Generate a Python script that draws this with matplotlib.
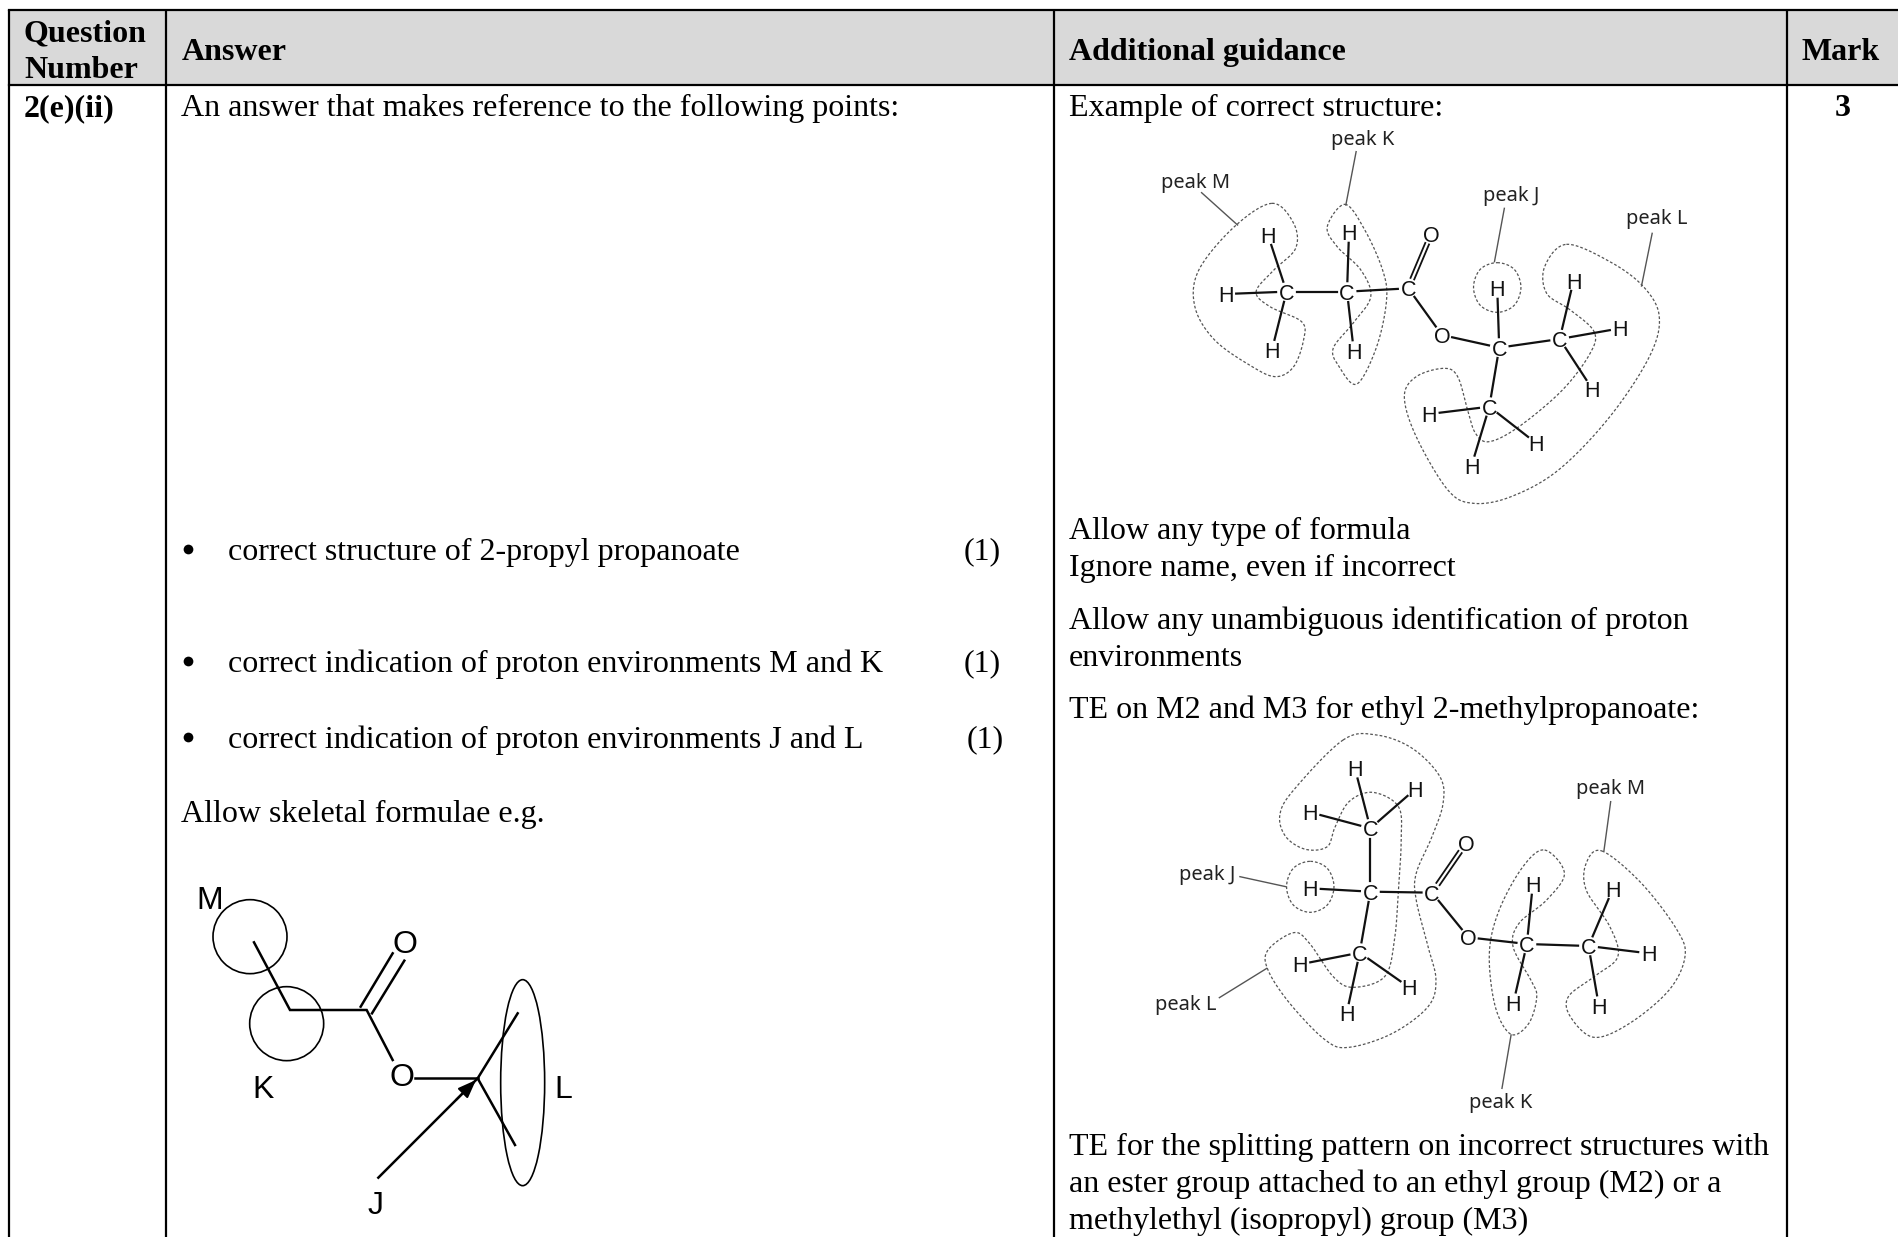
import matplotlib
matplotlib.use("Agg")
import matplotlib.pyplot as plt
import numpy as np
from matplotlib.patches import Circle, Ellipse, Rectangle

W, H = 1899, 1237
SERIF = "Liberation Serif"
SANS = "Liberation Sans"
BODY = 23.0

col_x = [9.5, 166, 1054, 1787]
header_top, header_bottom = 10, 85

header_labels = [("Question", 24, 41), ("Number", 24, 78), ("Answer", 182, 60),
                 ("Additional guidance", 1069, 60), ("Mark", 1802, 60)]
bold_labels = [("2(e)(ii)", 24, 116), ("3", 1835, 116)]
body_lines = [
    ("An answer that makes reference to the following points:", 181, 116),
    ("correct structure of 2-propyl propanoate", 228, 560),
    ("(1)", 964, 559),
    ("correct indication of proton environments M and K", 228, 672),
    ("(1)", 964, 671),
    ("correct indication of proton environments J and L", 228, 748),
    ("(1)", 967, 747),
    ("Allow skeletal formulae e.g.", 181, 822),
    ("Example of correct structure:", 1069, 116),
    ("Allow any type of formula", 1069, 539),
    ("Ignore name, even if incorrect", 1069, 576),
    ("Allow any unambiguous identification of proton", 1069, 629),
    ("environments", 1069, 666),
    ("TE on M2 and M3 for ethyl 2-methylpropanoate:", 1069, 718),
    ("TE for the splitting pattern on incorrect structures with", 1069, 1155),
    ("an ester group attached to an ethyl group (M2) or a", 1069, 1192),
    ("methylethyl (isopropyl) group (M3)", 1069, 1229),
]
bullet_y = [549, 661, 737]

# ---- first molecule (reference zoom units) ----
m1_atoms = [("H",425,375),("H",318,552),("H",435,720),("C",472,545),
            ("H",630,367),("H",642,722),("C",625,545),("C",780,535),("O",838,372),
            ("O",865,675),("C",1010,713),("H",1005,535),("C",1163,687),("H",1198,512),
            ("H",1316,655),("H",1245,836),("C",985,890),("H",833,912),("H",1104,1000),("H",940,1067)]
m1_bonds = [(0,3),(1,3),(2,3),(3,6),(4,6),(5,6),(6,7),(7,9),(9,10),(10,11),(10,12),
            (12,13),(12,14),(12,15),(10,16),(16,17),(16,18),(16,19)]
m1_double = (7, 8)
m1_peaks = [("peak K",665,90),("peak M",243,218),("peak J",1040,258),("peak L",1408,328)]
m1_leaders = [((648,125),(622,285)),((257,248),(348,345)),((1023,295),(998,455)),((1397,370),(1370,528))]
m1_blobs = [
    [(435,280),(490,340),(495,415),(440,480),(395,545),(430,590),(510,635),(515,690),(490,770),(445,800),(385,770),(290,690),(240,590),(250,480),(340,350)],
    [(620,283),(670,360),(715,480),(725,570),(700,710),(650,822),(605,770),(590,715),(640,640),(685,560),(660,480),(600,410),(575,350)],
    [(1005,458),(1048,478),(1065,532),(1048,586),(1005,607),(962,586),(945,532),(962,478)],
    [(1180,403),(1290,455),(1375,530),(1415,620),(1390,740),(1290,920),(1160,1080),(1040,1160),(945,1180),(880,1140),(800,980),(770,860),(800,800),(870,775),(905,800),(930,900),(950,970),(985,995),(1060,950),(1170,840),(1240,730),(1250,665),(1190,600),(1130,550),(1125,470)],
]

# ---- second molecule (reference zoom units) ----
m2_atoms = [("H",645,85),("H",798,147),("H",532,217),("C",684,265),
            ("H",532,445),("C",684,455),("C",657,638),("H",506,673),("H",782,742),("H",624,820),
            ("C",840,458),("O",926,310),("O",932,592),("C",1080,612),("H",1095,433),("H",1046,788),
            ("C",1236,618),("H",1297,448),("H",1388,640),("H",1262,797)]
m2_bonds = [(0,3),(1,3),(2,3),(3,5),(4,5),(5,6),(6,7),(6,8),(6,9),(5,10),(10,12),(12,13),
            (13,14),(13,15),(13,16),(16,17),(16,18),(16,19)]
m2_double = (10, 11)
m2_peaks = [("peak M",1292,148),("peak J",270,406),("peak L",218,795),("peak K",1015,1088)]
m2_leaders = [((1292,185),(1275,332)),((354,410),(470,440)),((302,773),(422,685)),((1040,885),(1017,1045))]
m2_blobs = [
    [(615,0),(700,-15),(790,25),(860,110),(868,190),(840,290),(800,400),(800,480),(830,620),(850,720),(830,800),(740,880),(630,922),(570,900),(480,790),(425,690),(425,630),(490,578),(530,610),(590,710),(640,742),(720,710),(745,600),(755,450),(762,300),(755,200),(690,157),(630,185),(595,260),(575,320),(520,328),(470,290),(455,225),(490,150)],
    [(532,364),(575,385),(592,440),(575,495),(532,517),(489,495),(472,440),(489,385)],
    [(1125,330),(1175,400),(1130,480),(1060,550),(1045,620),(1090,720),(1105,770),(1085,850),(1040,883),(1000,800),(985,640),(1010,510),(1070,380)],
    [(1270,333),(1370,430),(1460,570),(1480,650),(1440,750),(1340,850),(1250,892),(1190,830),(1185,770),(1250,710),(1310,650),(1290,560),(1230,450),(1230,370)],
]

# ---- skeletal structure (reference zoom units) ----
sk_chain = [(252,247),(360,450),(590,450),(668,600)]
sk_ester = [(735,655),(923,655)]
sk_arm_up = [(923,655),(1043,460)]
sk_arm_down = [(923,655),(1035,855)]
sk_dbl_a = [(572,440),(668,280)]
sk_dbl_b = [(606,460),(703,302)]
sk_arrow = [(625,953),(918,660)]
sk_circles = [(240,230,111),(350,491,111)]
sk_ellipse = (1058,668,132,618)
sk_labels = [("M",118,112),("K",280,678),("O",705,244),("O",695,644),("L",1180,678),("J",618,1026)]

fig = plt.figure(figsize=(W/100, H/100), dpi=100, facecolor="white")
ax = fig.add_axes([0, 0, 1, 1])
ax.set_xlim(0, W); ax.set_ylim(H, 0); ax.axis("off")

ax.add_patch(Rectangle((col_x[0], header_top), W-col_x[0], header_bottom-header_top,
                       fc="#d9d9d9", ec="none", zorder=0))
for x in col_x:
    ax.plot([x, x], [header_top, H], color="black", lw=1.6, solid_capstyle="butt")
for y in (header_top, header_bottom):
    ax.plot([col_x[0], W], [y, y], color="black", lw=1.6)

for s, x, y in header_labels + bold_labels:
    ax.text(x, y, s, family=SERIF, weight="bold", fontsize=BODY, va="baseline", ha="left")
for s, x, y in body_lines:
    ax.text(x, y, s, family=SERIF, fontsize=BODY, va="baseline", ha="left")
for y in bullet_y:
    ax.plot([188], [y], "o", color="black", ms=7, mec="none")

def smooth(pts, n=16):
    p = np.array(pts, float); m = len(p); out = []
    for i in range(m):
        p0, p1, p2, p3 = p[(i-1) % m], p[i], p[(i+1) % m], p[(i+2) % m]
        for t in np.linspace(0, 1, n, endpoint=False):
            out.append(0.5*((2*p1)+(p2-p0)*t+(2*p0-5*p1+4*p2-p3)*t*t+(3*p1-p0-3*p2+p3)*t**3))
    out.append(out[0])
    return np.array(out)

def molecule(atoms, bonds, double, peaks, leaders, blobs, x0, y0, kx=2.53, ky=3.0):
    tr = lambda q: np.array([x0+q[0]/kx, y0+q[1]/ky])
    for b in blobs:
        c = smooth(b)
        ax.plot(x0+c[:,0]/kx, y0+c[:,1]/ky, color="#555555", lw=0.9, ls=(0,(2.2,1.6)), zorder=2)
    for a, b in leaders:
        A, B = tr(a), tr(b)
        ax.plot([A[0],B[0]], [A[1],B[1]], color="#555555", lw=1.0, zorder=2)
    pos = [tr(a[1:]) for a in atoms]
    gap = 10.5
    for i, j in bonds:
        A, B = pos[i], pos[j]
        u = (B-A)/np.linalg.norm(B-A)
        A2, B2 = A+u*gap, B-u*gap
        ax.plot([A2[0],B2[0]], [A2[1],B2[1]], color="#111111", lw=1.6, zorder=3)
    A, B = pos[double[0]], pos[double[1]]
    u = (B-A)/np.linalg.norm(B-A); nrm = np.array([-u[1],u[0]])*2.0
    for sgn in (-1, 1):
        P, Q = A+u*gap+sgn*nrm, B-u*gap+sgn*nrm
        ax.plot([P[0],Q[0]], [P[1],Q[1]], color="#111111", lw=1.3, zorder=3)
    for s, zx, zy in atoms:
        p = tr((zx, zy))
        ax.text(p[0], p[1], s, family=SANS, fontsize=15.5, ha="center", va="center_baseline", color="#111111", zorder=4)
    for s, zx, zy in peaks:
        p = tr((zx, zy))
        ax.text(p[0], p[1], s, family="Noto Sans", fontsize=14.4, ha="center", va="center", color="#222222", zorder=4)

molecule(m1_atoms, m1_bonds, m1_double, m1_peaks, m1_leaders, m1_blobs, 1100, 110)
molecule(m2_atoms, m2_bonds, m2_double, m2_peaks, m2_leaders, m2_blobs, 1100, 740)

sx = lambda z: 170+z/3
sy = lambda z: 860+z/3
for seg in (sk_chain, sk_ester, sk_arm_up, sk_arm_down, sk_dbl_a, sk_dbl_b, sk_arrow):
    a = np.array(seg, float)
    ax.plot(sx(a[:,0]), sy(a[:,1]), color="black", lw=1.8, solid_joinstyle="miter", zorder=3)
ax.annotate("", xy=(sx(sk_arrow[1][0]), sy(sk_arrow[1][1])), xytext=(sx(sk_arrow[1][0]-60), sy(sk_arrow[1][1]+60)),
            arrowprops=dict(arrowstyle="-|>,head_length=1.1,head_width=0.42", color="black", lw=1.5, shrinkA=0, shrinkB=0), zorder=4)
for cx, cy, r in sk_circles:
    ax.add_patch(Circle((sx(cx), sy(cy)), r/3, fc="none", ec="black", lw=1.2, zorder=3))
ax.add_patch(Ellipse((sx(sk_ellipse[0]), sy(sk_ellipse[1])), sk_ellipse[2]/3, sk_ellipse[3]/3, fc="none", ec="black", lw=1.2, zorder=3))
for s, zx, zy in sk_labels:
    ax.text(sx(zx), sy(zy), s, family=SANS, fontsize=23, ha="center", va="center_baseline", zorder=4)

fig.savefig("out.png", dpi=100, facecolor="white")
